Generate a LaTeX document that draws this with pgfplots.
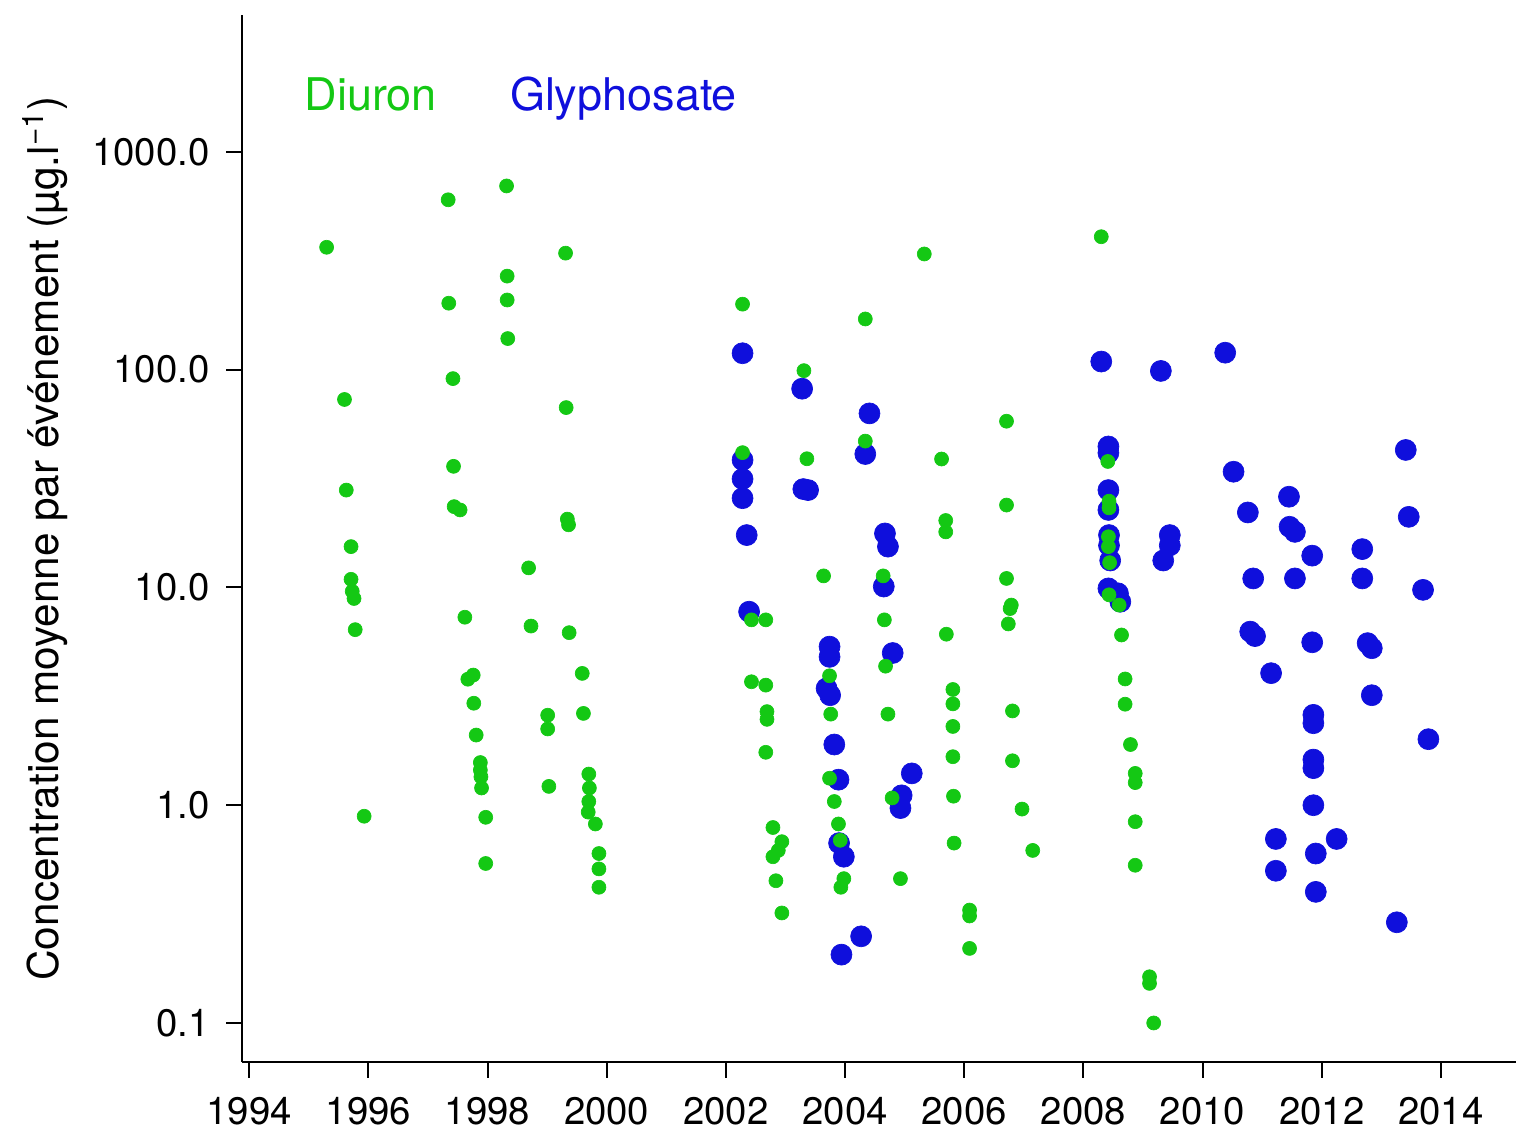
\documentclass[border=0pt]{standalone}
\usepackage{fontspec}
\setmainfont{TeX Gyre Heros}
\usepackage{pgfplots}
\pgfplotsset{compat=1.18}
\definecolor{dgreen}{RGB}{20,200,20}
\definecolor{gblue}{RGB}{15,15,220}

\begin{document}
\begin{tikzpicture}
\useasboundingbox (-72.6pt,-20.1pt) rectangle (382.2pt,318.6pt);
\begin{axis}[
  scale only axis, width=382.2pt, height=314.1pt,
  at={(0,0)}, anchor=south west,
  ymode=log,
  xmin=1993.88, xmax=2015.26, ymin=0.0662, ymax=4256,
  axis x line*=bottom, axis y line*=left,
  axis line style={line width=0.6pt, black},
  tick align=outside, major tick length=4.8pt,
  tick style={line width=0.6pt, black},
  yminorticks=false, xminorticks=false,
  xtick={1994,1996,1998,2000,2002,2004,2006,2008,2010,2012,2014},
  xticklabels={1994,1996,1998,2000,2002,2004,2006,2008,2010,2012,2014},
  ytick={0.1,1,10,100,1000},
  yticklabels={0.1,1.0,10.0,100.0,1000.0},
  ticklabel style={font=\fontsize{11.5}{13}\selectfont},
  xticklabel style={yshift=-2.2pt},
  yticklabel style={xshift=-1.4pt},
  ylabel={Concentration moyenne par événement (µg.l\textsuperscript{−1})},
  ylabel style={at={(axis description cs:-0.1546,0.5)}, anchor=center, font=\fontsize{12.7}{15}\selectfont},
]
% Glyphosate (drawn first)
\addplot[only marks, mark=*, mark size=3.15pt, mark options={draw=gblue, fill=gblue, line width=0.2pt}] coordinates {
(2002.28,119) (2002.28,38.5) (2002.28,31.5) (2002.28,25.7) (2002.35,17.4) (2002.39,7.74)
(2003.28,81.8) (2003.30,28.3) (2003.38,28.0) (2003.74,5.35) (2003.74,4.8) (2003.69,3.44)
(2003.75,3.2) (2003.82,1.9) (2003.89,1.31) (2003.90,0.67) (2003.98,0.58) (2003.94,0.206)
(2004.27,0.25) (2004.41,63) (2004.34,41) (2004.67,17.7) (2004.72,15.4) (2004.65,10.1)
(2004.80,5.0) (2004.95,1.11) (2004.93,0.97) (2005.12,1.40)
(2008.30,109) (2008.42,44.4) (2008.42,41.5) (2008.42,28) (2008.42,22.7) (2008.43,17.4)
(2008.43,15.6) (2008.45,13.3) (2008.42,9.9) (2008.58,9.4) (2008.62,8.6)
(2009.30,98.7) (2009.45,17.4) (2009.45,15.6) (2009.34,13.3)
(2010.38,119.7) (2010.52,34.0) (2010.76,22.1) (2010.85,11.0) (2010.80,6.27) (2010.88,5.98)
(2011.15,4.04) (2011.23,0.70) (2011.23,0.50) (2011.45,26.1) (2011.46,19.0) (2011.55,18.0)
(2011.55,11.0) (2011.84,14.0) (2011.84,5.6) (2011.86,2.6) (2011.86,2.38) (2011.86,1.62)
(2011.86,1.48) (2011.86,1.0) (2011.90,0.60) (2011.90,0.40) (2012.25,0.70)
(2012.68,15.0) (2012.68,11.0) (2012.77,5.55) (2012.84,5.26) (2012.84,3.2)
(2013.26,0.29) (2013.41,42.8) (2013.46,21.1) (2013.70,9.75) (2013.79,2.01)
};
% Diuron
\addplot[only marks, mark=*, mark size=2.1pt, mark options={draw=dgreen, fill=dgreen, line width=0.2pt}] coordinates {
(1995.30,365) (1995.60,73) (1995.63,28) (1995.71,15.4) (1995.71,10.9) (1995.73,9.6)
(1995.76,8.9) (1995.78,6.4) (1995.93,0.89)
(1997.34,603) (1997.35,202) (1997.42,91) (1997.43,36) (1997.44,23.5) (1997.54,22.7)
(1997.62,7.3) (1997.76,3.96) (1997.67,3.79) (1997.77,2.94) (1997.81,2.1) (1997.88,1.57)
(1997.88,1.45) (1997.89,1.35) (1997.90,1.2) (1997.97,0.88) (1997.97,0.54)
(1998.32,698) (1998.33,269) (1998.33,209) (1998.34,139) (1998.69,12.3) (1998.73,6.65)
(1999.01,2.59) (1999.01,2.24) (1999.03,1.22)
(1999.31,343) (1999.32,67) (1999.34,20.6) (1999.36,19.4) (1999.37,6.2)
(1999.59,4.03) (1999.61,2.64) (1999.70,1.39) (1999.71,1.2) (1999.70,1.04) (1999.69,0.93)
(1999.81,0.82) (1999.87,0.60) (1999.87,0.51) (1999.87,0.42)
(2002.28,200) (2002.28,41.6) (2002.43,7.1) (2002.67,7.1) (2002.43,3.69) (2002.67,3.56)
(2002.69,2.69) (2002.69,2.48) (2002.67,1.75) (2002.79,0.79) (2002.94,0.68) (2002.88,0.62)
(2002.79,0.58) (2002.84,0.45) (2002.94,0.32)
(2003.31,99) (2003.36,39) (2003.64,11.3) (2003.74,3.93) (2003.76,2.62) (2003.74,1.33)
(2003.82,1.04) (2003.89,0.82) (2003.92,0.69) (2003.98,0.46) (2003.93,0.42)
(2004.34,171) (2004.34,47) (2004.64,11.3) (2004.66,7.1) (2004.68,4.35) (2004.72,2.62)
(2004.79,1.08) (2004.93,0.46)
(2005.33,340) (2005.62,38.9) (2005.69,20.3) (2005.69,18.0) (2005.70,6.1)
(2005.81,3.4) (2005.81,2.92) (2005.81,2.3) (2005.81,1.67) (2005.82,1.10) (2005.83,0.67)
(2006.09,0.33) (2006.09,0.31) (2006.09,0.22)
(2006.71,58) (2006.71,23.9) (2006.71,11.0) (2006.79,8.3) (2006.77,8.0) (2006.74,6.8)
(2006.81,2.71) (2006.81,1.60) (2006.97,0.96) (2007.15,0.62)
(2008.30,408) (2008.41,37.9) (2008.43,24.9) (2008.43,23.2) (2008.42,17.1) (2008.42,15.4)
(2008.44,13.0) (2008.43,9.25) (2008.60,8.3) (2008.64,6.05) (2008.70,3.8) (2008.70,2.91)
(2008.79,1.9) (2008.87,1.40) (2008.87,1.27) (2008.87,0.84) (2008.87,0.53)
(2009.11,0.163) (2009.11,0.152) (2009.18,0.10)
};
\node[anchor=base west, inner sep=0pt, text=dgreen, font=\fontsize{13.5}{15}\selectfont] at (axis cs:1994.92,1543) {Diuron};
\node[anchor=base west, inner sep=0pt, text=gblue, font=\fontsize{13.5}{15}\selectfont] at (axis cs:1998.37,1543) {Glyphosate};
\end{axis}
\end{tikzpicture}
\end{document}
